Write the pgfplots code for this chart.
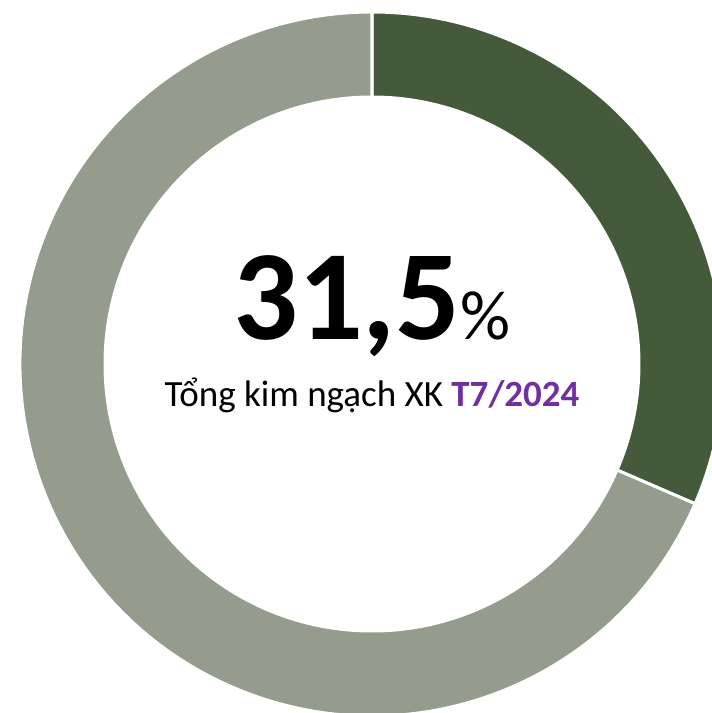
\documentclass[border=0pt]{standalone}
\usepackage{pgfplots}
\usepackage{pgfplotstable}
\pgfplotsset{compat=1.18}
\usepackage{fontspec}
\setmainfont{Carlito}

\definecolor{darkgreen}{HTML}{445A3A}
\definecolor{greygreen}{HTML}{949C8E}
\definecolor{accent}{HTML}{7030A0}

% share of total export turnover, July 2024
\pgfplotstableread{
part   value
share  31.5
rest   68.5
}\donutdata

\begin{document}
\begin{tikzpicture}
\pgfplotstablegetelem{0}{value}\of\donutdata
\let\shareval\pgfplotsretval
\pgfplotstablegetelem{1}{value}\of\donutdata
\let\restval\pgfplotsretval
\pgfmathsetmacro{\total}{\shareval+\restval}
\pgfmathsetmacro{\aS}{90}
\pgfmathsetmacro{\aM}{90-\shareval/\total*360}
\pgfmathsetmacro{\aE}{\aM-\restval/\total*360}
\def\ro{352pt}
\def\ri{267pt}
\begin{axis}[
    name=donut,
    scale only axis,
    width=712pt, height=713pt,
    xmin=-372, xmax=340,
    ymin=-349, ymax=364,
    hide axis,
    clip=true,
]
  % dark sector (31.5 %)
  \filldraw[fill=darkgreen, draw=white, line width=3pt]
    ([shift={(\aS:\ri)}]axis cs:0,0) -- ([shift={(\aS:\ro)}]axis cs:0,0)
    arc[start angle=\aS, end angle=\aM, radius=\ro]
    -- ([shift={(\aM:\ri)}]axis cs:0,0)
    arc[start angle=\aM, end angle=\aS, radius=\ri] -- cycle;
  % remaining sector
  \filldraw[fill=greygreen, draw=white, line width=3pt]
    ([shift={(\aM:\ri)}]axis cs:0,0) -- ([shift={(\aM:\ro)}]axis cs:0,0)
    arc[start angle=\aM, end angle=\aE, radius=\ro]
    -- ([shift={(\aE:\ri)}]axis cs:0,0)
    arc[start angle=\aE, end angle=\aM, radius=\ri] -- cycle;

  \node[anchor=base, inner sep=0pt] at (axis cs:0,24)
    {\fontsize{128}{130}\selectfont\bfseries 31,5\fontsize{70}{72}\selectfont\mdseries\%};
  \node[anchor=base, inner sep=0pt] at (axis cs:0,-43)
    {\fontsize{37}{40}\selectfont Tổng kim ngạch XK \textcolor{accent}{\bfseries T7/2024}};
\end{axis}
\pgfresetboundingbox
\useasboundingbox (donut.south west) rectangle (donut.north east);
\end{tikzpicture}
\end{document}
